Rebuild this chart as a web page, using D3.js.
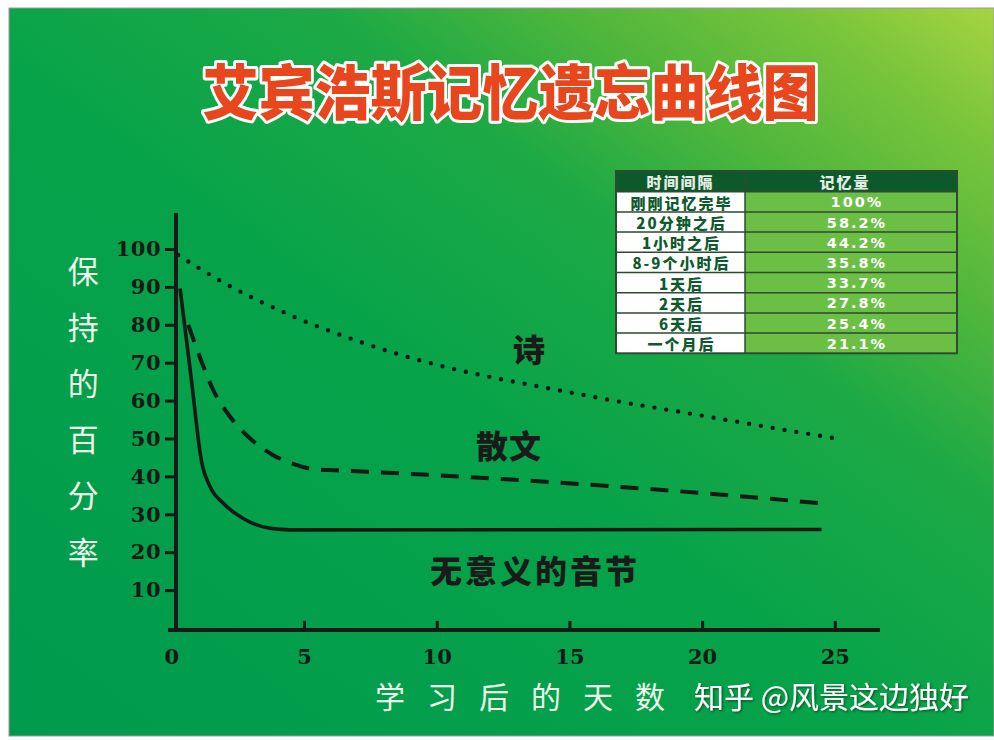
<!DOCTYPE html>
<html><head><meta charset="utf-8">
<script src="https://cdn.jsdelivr.net/npm/d3@7/dist/d3.min.js"></script>
<style>body{margin:0;background:#fff;overflow:hidden} svg{display:block}</style>
</head><body><div id="chart"></div>
<script>
// ---------- data ----------
const chartTitle = "艾宾浩斯记忆遗忘曲线图";
const yAxisTitle = ["保","持","的","百","分","率"];
const xAxisTitle = "学习后的天数";
const watermark = "知乎 @风景这边独好";
const xTicks = [0, 5, 10, 15, 20, 25];
const yTicks = [10, 20, 30, 40, 50, 60, 70, 80, 90, 100];
const tableHeader = ["时间间隔", "记忆量"];
const intervals = ["刚刚记忆完毕", "20分钟之后", "1小时之后", "8-9个小时后", "1天后", "2天后", "6天后", "一个月后"];
const retention = ["100%", "58.2%", "44.2%", "35.8%", "33.7%", "27.8%", "25.4%", "21.1%"];
// curve 诗 (poem, dotted)
const poemDays = [0.26, 1.9, 4.47, 7.11, 9.37, 11.63, 14.39, 16.9, 19.1, 20.93, 23.25, 25.16];
const poemVals = [98.4, 91.4, 82.6, 75.5, 70.6, 66.8, 63.0, 59.7, 57.1, 54.9, 52.1, 49.9];
// curve 散文 (prose, dashed)
const proseDays = [0.64, 1.21, 1.58, 2.21, 2.97, 3.84, 4.72, 5.35, 6.23, 9.75, 18.9, 24.5];
const proseVals = [80.0, 69.0, 62.8, 55.8, 50.0, 45.6, 43.0, 41.9, 41.6, 40.4, 36.2, 32.9];
// curve 无意义的音节 (nonsense syllables, solid)
const syllDays = [0.33, 0.74, 1.15, 1.46, 1.96, 2.71, 3.72, 4.47, 24.5];
const syllVals = [89.6, 66.5, 43.5, 37.3, 32.9, 28.9, 26.3, 25.9, 26.0];
const curveLabels = ["诗", "散文", "无意义的音节"];

// ---------- drawing ----------
const W = 994, H = 740;
const svg = d3.select("#chart").append("svg").attr("width", W).attr("height", H);
const defs = svg.append("defs");
const g = defs.append("linearGradient").attr("id", "bg")
  .attr("x1", 0).attr("y1", 1).attr("x2", 1).attr("y2", 0);
[[0, "#009a4d"], [0.45, "#06a34a"], [0.66, "#1da945"], [0.78, "#4eb63c"], [0.9, "#78c43b"], [1, "#a6d441"]]
  .forEach(([o, c]) => g.append("stop").attr("offset", o).attr("stop-color", c));
const sh = defs.append("filter").attr("id", "sh").attr("x", -0.1).attr("y", -0.3).attr("width", 1.2).attr("height", 1.6);
sh.append("feDropShadow").attr("dx", 1.2).attr("dy", 1.2).attr("stdDeviation", 0.8).attr("flood-color", "#0a3a18").attr("flood-opacity", 0.8);

svg.append("rect").attr("width", W).attr("height", H).attr("fill", "#fff");
svg.append("rect").attr("x", 9).attr("y", 8).attr("width", W - 9).attr("height", H - 12)
  .attr("fill", "url(#bg)").attr("stroke", "#9a9a9a").attr("stroke-width", 1);

// title
svg.append("text").attr("x", 510.5).attr("y", 115).attr("text-anchor", "middle")
  .attr("font-family", "'Noto Sans CJK SC'").attr("font-weight", 900).attr("font-size", 60)
  .attr("textLength", 616).attr("lengthAdjust", "spacingAndGlyphs")
  .attr("fill", "#e8461d").attr("stroke", "#fff").attr("stroke-width", 6)
  .attr("stroke-linejoin", "round").attr("paint-order", "stroke")
  .text(chartTitle);

// scales
const x = d3.scaleLinear().domain([0, 25]).range([171.3, 834.8]);
const y = d3.scaleLinear().domain([0, 100]).range([628, 249]);
const ink = "#151a15";
const serif = "'DejaVu Serif', serif";

// axes lines
const axisG = svg.append("g");
axisG.append("line").attr("x1", x(0) + 4.7).attr("x2", x(0) + 4.7)
  .attr("y1", y(109.5)).attr("y2", y(-1)).attr("stroke", ink).attr("stroke-width", 4);
axisG.append("line").attr("x1", x(-0.12)).attr("x2", x(26.7))
  .attr("y1", y(-0.5)).attr("y2", y(-0.5)).attr("stroke", ink).attr("stroke-width", 4);

const yAx = svg.append("g").attr("transform", `translate(${x(0) + 4.7},0)`)
  .call(d3.axisLeft(y).tickValues(yTicks).tickSize(11).tickPadding(4));
yAx.select(".domain").remove();
yAx.selectAll(".tick line").attr("stroke", ink).attr("stroke-width", 3);
yAx.selectAll(".tick text").attr("fill", ink).attr("font-family", serif)
  .attr("font-weight", "bold").attr("font-size", 21).attr("letter-spacing", 0.5);

const xAx = svg.append("g").attr("transform", `translate(0,${y(-0.5)})`)
  .call(d3.axisBottom(x).tickValues(xTicks).tickSize(-9).tickPadding(19));
xAx.select(".domain").remove();
xAx.selectAll(".tick line").attr("stroke", ink).attr("stroke-width", 3)
  .attr("display", d => d === 0 ? "none" : null);
xAx.selectAll(".tick text").attr("fill", ink).attr("font-family", serif)
  .attr("font-weight", "bold").attr("font-size", 21);

// curves
const line = d3.line().x(d => x(d[0])).y(d => y(d[1])).curve(d3.curveMonotoneX);
const zip = (a, b) => a.map((v, i) => [v, b[i]]);
svg.append("path").datum(zip(poemDays, poemVals)).attr("d", line)
  .attr("fill", "none").attr("stroke", ink).attr("stroke-width", 4.4)
  .attr("stroke-linecap", "round").attr("stroke-dasharray", "0 12");
svg.append("path").datum(zip(proseDays, proseVals)).attr("d", line)
  .attr("fill", "none").attr("stroke", ink).attr("stroke-width", 4)
  .attr("stroke-dasharray", "18 12");
svg.append("path").datum(zip(syllDays, syllVals)).attr("d", line)
  .attr("fill", "none").attr("stroke", ink).attr("stroke-width", 3.6);

// curve labels
const lblPos = [[13.5, 74], [12.72, 48.5], [13.7, 15.6]];
curveLabels.forEach((t, i) => {
  svg.append("text").attr("x", x(lblPos[i][0])).attr("y", y(lblPos[i][1]))
    .attr("text-anchor", "middle").attr("dominant-baseline", "central")
    .attr("font-family", "'Noto Sans CJK SC'").attr("font-weight", 900)
    .attr("font-size", 32).attr("letter-spacing", i === 2 ? 3 : 1).attr("fill", "#1a1a1a")
    .text(t);
});

// axis titles
yAxisTitle.forEach((c, i) => {
  svg.append("text").attr("x", 83.3).attr("y", 269 + i * 56.2)
    .attr("text-anchor", "middle").attr("dominant-baseline", "central")
    .attr("font-family", "'Noto Sans CJK SC'").attr("font-weight", 400)
    .attr("font-size", 31).attr("fill", "#eef7ea").text(c);
});
svg.append("text").attr("x", 375).attr("y", 708)
  .attr("font-family", "'Noto Sans CJK SC'").attr("font-weight", 400)
  .attr("font-size", 30).attr("letter-spacing", 22).attr("fill", "#eef7ea").text(xAxisTitle);
svg.append("text").attr("x", 694).attr("y", 708)
  .attr("font-family", "'Noto Sans CJK SC'").attr("font-weight", 400)
  .attr("font-size", 30).attr("fill", "#ffffff").attr("filter", "url(#sh)").text(watermark);

// table
const tX = 616, tY = 171, hH = 20.7, rH = 20.2, c1 = 129, c2 = 212;
const tbl = svg.append("g");
tbl.append("rect").attr("x", tX).attr("y", tY).attr("width", c1 + c2).attr("height", hH).attr("fill", "#0c5a2c");
tableHeader.forEach((t, i) => {
  tbl.append("text").attr("x", i === 0 ? tX + c1 / 2 : tX + c1 + c2 / 2 - 6).attr("y", tY + hH / 2 + 0.5)
    .attr("text-anchor", "middle").attr("dominant-baseline", "central")
    .attr("font-family", "'Noto Sans CJK SC'").attr("font-weight", 900).attr("font-size", 15)
    .attr("letter-spacing", 2).attr("fill", "#e4ece4").text(t);
});
intervals.forEach((t, i) => {
  const ry = tY + hH + i * rH;
  tbl.append("rect").attr("x", tX).attr("y", ry).attr("width", c1).attr("height", rH).attr("fill", "#ffffff");
  tbl.append("rect").attr("x", tX + c1).attr("y", ry).attr("width", c2).attr("height", rH).attr("fill", "#6cbf45");
  tbl.append("text").attr("x", tX + c1 / 2 + 1).attr("y", ry + rH / 2 + 0.5)
    .attr("text-anchor", "middle").attr("dominant-baseline", "central")
    .attr("font-family", "'Noto Sans CJK SC'").attr("font-weight", 900).attr("font-size", 15)
    .attr("letter-spacing", 2).attr("fill", "#0e5a2e").text(t);
  tbl.append("text").attr("x", tX + c1 + c2 / 2 + 6).attr("y", ry + rH / 2 + 0.5)
    .attr("text-anchor", "middle").attr("dominant-baseline", "central")
    .attr("font-family", "'DejaVu Sans'").attr("font-weight", "bold").attr("font-size", 14.5)
    .attr("letter-spacing", 2).attr("fill", "#ffffff").text(retention[i]);
  tbl.append("line").attr("x1", tX).attr("x2", tX + c1 + c2).attr("y1", ry).attr("y2", ry)
    .attr("stroke", "#2f4a33").attr("stroke-width", 1.5);
});
tbl.append("line").attr("x1", tX + c1).attr("x2", tX + c1).attr("y1", tY).attr("y2", tY + hH + 8 * rH)
  .attr("stroke", "#2f4a33").attr("stroke-width", 1.5);
tbl.append("rect").attr("x", tX).attr("y", tY).attr("width", c1 + c2).attr("height", hH + 8 * rH)
  .attr("fill", "none").attr("stroke", "#2f4a33").attr("stroke-width", 2);
</script></body></html>
